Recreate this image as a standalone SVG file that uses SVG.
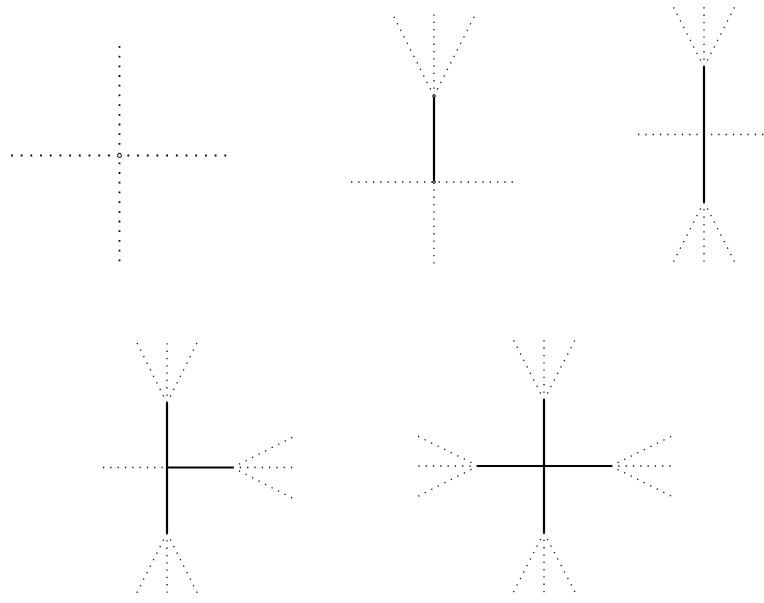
<svg xmlns="http://www.w3.org/2000/svg" width="764" height="603" viewBox="0 0 764 603">
<style>
.bg{fill:#fff}
.d1{stroke:#000;stroke-width:1.8;stroke-dasharray:1.8 7.9;fill:none}
.d{stroke:#111;stroke-width:1.3;stroke-dasharray:1.3 6;fill:none}
.s{stroke:#000;stroke-width:2.2;fill:none}
.v{fill:#fff;stroke:#000;stroke-width:1}
</style>
<rect class="bg" width="764" height="603"/>
<g id="fig1">
<line class="d1" x1="11" y1="155.5" x2="229" y2="155.5"/>
<line class="d1" x1="119.5" y1="46" x2="119.5" y2="264"/>
<circle class="v" cx="119.5" cy="155.5" r="2"/>
</g>
<g id="fig2">
<line class="d" x1="351" y1="182" x2="517" y2="182"/>
<line class="d" x1="434" y1="182" x2="434" y2="266"/>
<line class="d" x1="434" y1="96" x2="434" y2="14"/>
<line class="d" x1="434" y1="96" x2="393" y2="15"/>
<line class="d" x1="434" y1="96" x2="475" y2="15"/>
<line class="s" x1="434" y1="96" x2="434" y2="182"/>
<circle class="v" cx="434" cy="96" r="1.3"/>
<circle class="v" cx="434" cy="182" r="1.3"/>
</g>
<g id="fig3">
<line class="d" x1="638" y1="134.5" x2="770" y2="134.5"/>
<line class="d" x1="704" y1="67" x2="704" y2="3"/>
<line class="d" x1="704" y1="67" x2="672" y2="4.5"/>
<line class="d" x1="704" y1="67" x2="736" y2="4.5"/>
<line class="d" x1="704" y1="202" x2="704" y2="266"/>
<line class="d" x1="704" y1="202" x2="672" y2="264.5"/>
<line class="d" x1="704" y1="202" x2="736" y2="264.5"/>
<line class="s" x1="704" y1="67" x2="704" y2="202"/>
</g>
<g id="fig4">
<line class="d" x1="103" y1="467.5" x2="167" y2="467.5"/>
<line class="d" x1="167" y1="403" x2="167" y2="340"/>
<line class="d" x1="167" y1="403" x2="136.5" y2="342"/>
<line class="d" x1="167" y1="403" x2="197.5" y2="342"/>
<line class="d" x1="167" y1="533" x2="167" y2="596"/>
<line class="d" x1="167" y1="533" x2="136.5" y2="593.5"/>
<line class="d" x1="167" y1="533" x2="197.5" y2="593.5"/>
<line class="d" x1="232.5" y1="467.5" x2="296" y2="467.5"/>
<line class="d" x1="232.5" y1="467.5" x2="294" y2="436.5"/>
<line class="d" x1="232.5" y1="467.5" x2="294" y2="499"/>
<line class="s" x1="167" y1="403" x2="167" y2="533"/>
<line class="s" x1="167" y1="467.5" x2="232.5" y2="467.5"/>
</g>
<g id="fig5">
<line class="d" x1="544" y1="400" x2="544" y2="336.5"/>
<line class="d" x1="544" y1="400" x2="512.5" y2="338"/>
<line class="d" x1="544" y1="400" x2="576" y2="338"/>
<line class="d" x1="544" y1="532.5" x2="544" y2="596"/>
<line class="d" x1="544" y1="532.5" x2="512.5" y2="594"/>
<line class="d" x1="544" y1="532.5" x2="576" y2="594"/>
<line class="d" x1="478" y1="466" x2="415" y2="466"/>
<line class="d" x1="478" y1="466" x2="416.5" y2="435.5"/>
<line class="d" x1="478" y1="466" x2="416.5" y2="497"/>
<line class="d" x1="611" y1="466" x2="675" y2="466"/>
<line class="d" x1="611" y1="466" x2="673" y2="435.5"/>
<line class="d" x1="611" y1="466" x2="673" y2="497"/>
<line class="s" x1="544" y1="400" x2="544" y2="532.5"/>
<line class="s" x1="478" y1="466" x2="611" y2="466"/>
</g>
</svg>
